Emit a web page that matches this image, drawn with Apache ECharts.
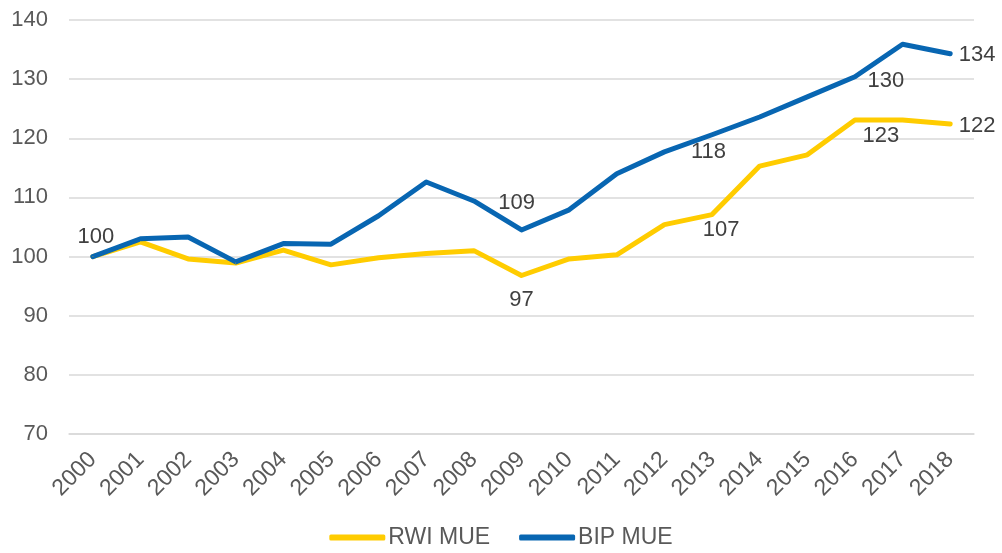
<!DOCTYPE html>
<html>
<head>
<meta charset="utf-8">
<script src="https://cdn.jsdelivr.net/npm/echarts@6/dist/echarts.min.js"></script>
<style>
  html, body { margin: 0; padding: 0; background: #fff; }
  #chart { width: 1002px; height: 553px; }
</style>
</head>
<body>
<div id="chart"></div>
<script>
  var years = ['2000', '2001', '2002', '2003', '2004', '2005', '2006', '2007', '2008', '2009',
               '2010', '2011', '2012', '2013', '2014', '2015', '2016', '2017', '2018']
  var rwiMue = [100, 102.5, 99.6, 98.9, 101.1, 98.6, 99.8, 100.5, 101.0, 96.8,
                99.6, 100.3, 105.4, 107.1, 115.3, 117.2, 123.1, 123.1, 122.4]
  var bipMue = [100, 103.0, 103.3, 99.1, 102.2, 102.1, 106.9, 112.6, 109.4, 104.5,
                107.9, 114.0, 117.7, 120.6, 123.6, 127.0, 130.4, 135.9, 134.3]
  var yTicks = [70, 80, 90, 100, 110, 120, 130, 140]

  // which points carry a value label
  var rwiLabelled = [9, 13, 16, 18]
  var bipLabelled = [0, 8, 12, 16, 18]

  // label placement, roughly as the labels were dragged in the original
  var rwiLabelPos = {
    9: { position: 'bottom', offset: [0, 8] },
    13: { position: 'bottom', offset: [9, -1] },
    16: { position: 'right', offset: [2, 16] },
    18: { position: 'right', offset: [3, 2] }
  }
  var bipLabelPos = {
    0: { position: 'top', offset: [3, -3] },
    8: { position: 'right', offset: [19, 2] },
    12: { position: 'right', offset: [21, 0] },
    16: { position: 'right', offset: [7, 4] },
    18: { position: 'right', offset: [3, 1] }
  }

  function buildData(values, labelled, placement) {
    return values.map(function (v, i) {
      if (labelled.indexOf(i) < 0) return v
      return {
        value: v,
        label: {
          show: true,
          position: placement[i].position,
          offset: placement[i].offset,
          formatter: function (p) { return Math.round(p.value) }
        }
      }
    })
  }

  var font = 'Liberation Sans, Arial, sans-serif'
  var chart = echarts.init(document.getElementById('chart'))

  function lineSeries(name, values, color, labelled, placement) {
    return {
      name: name,
      type: 'line',
      data: buildData(values, labelled, placement),
      showSymbol: true,
      showAllSymbol: true,
      symbol: 'circle',
      symbolSize: 1,
      itemStyle: { color: color },
      lineStyle: { color: color, width: 5, cap: 'round', join: 'round' },
      label: {
        show: false,
        color: '#404040',
        fontSize: 22,
        fontFamily: font
      },
      emphasis: { disabled: true },
      animation: false
    }
  }

  chart.setOption({
    grid: { left: 69, right: 28, top: 20, bottom: 119 },
    legend: {
      bottom: -1,
      left: 'center',
      icon: 'roundRect',
      itemWidth: 56,
      itemHeight: 6,
      itemGap: 29,
      textStyle: { color: '#595959', fontSize: 23, fontFamily: font, padding: [0, 0, 0, -2] },
      data: ['RWI MUE', 'BIP MUE']
    },
    xAxis: {
      type: 'category',
      data: years,
      boundaryGap: true,
      axisLine: { lineStyle: { color: '#D9D9D9', width: 1.5 } },
      axisTick: { show: false },
      axisLabel: {
        rotate: 45,
        interval: 0,
        color: '#595959',
        fontSize: 23,
        fontFamily: font,
        margin: 22
      }
    },
    yAxis: {
      type: 'value',
      min: yTicks[0],
      max: yTicks[yTicks.length - 1],
      interval: 10,
      axisLine: { show: false },
      axisTick: { show: false },
      splitLine: { lineStyle: { color: '#D9D9D9', width: 1.5 } },
      axisLabel: {
        color: '#595959',
        fontSize: 22,
        fontFamily: font,
        margin: 21
      }
    },
    series: [
      lineSeries('RWI MUE', rwiMue, '#FFCC00', rwiLabelled, rwiLabelPos),
      lineSeries('BIP MUE', bipMue, '#0866B2', bipLabelled, bipLabelPos)
    ]
  })
</script>
</body>
</html>
